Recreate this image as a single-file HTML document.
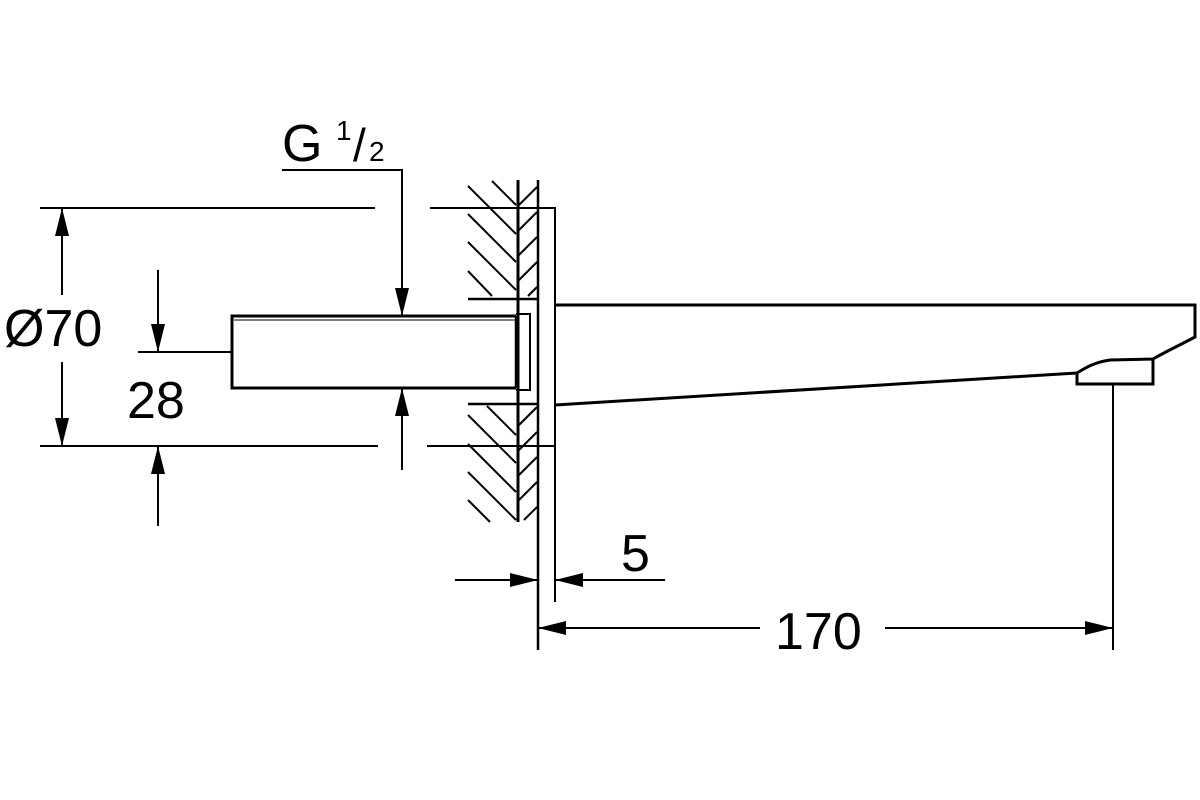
<!DOCTYPE html>
<html><head><meta charset="utf-8"><style>html,body{margin:0;padding:0;background:#fff}svg{display:block}</style></head>
<body>
<svg width="1200" height="800" viewBox="0 0 1200 800" xmlns="http://www.w3.org/2000/svg">
<defs>
<marker id="a" markerWidth="30" markerHeight="16" refX="28" refY="7" orient="auto" markerUnits="userSpaceOnUse">
<path d="M0,0 L28,7 L0,14 Z" fill="#000"/></marker>
</defs>
<g stroke="#000" fill="none" stroke-width="2">
<line x1="40" y1="208" x2="375" y2="208"/>
<line x1="430" y1="208" x2="538" y2="208"/>
<line x1="40" y1="446" x2="378" y2="446"/>
<line x1="427" y1="446" x2="538" y2="446"/>
<line x1="138" y1="352" x2="232" y2="352"/>
<line x1="62" y1="295" x2="62" y2="208" marker-end="url(#a)"/>
<line x1="62" y1="362" x2="62" y2="446" marker-end="url(#a)"/>
<line x1="158" y1="270" x2="158" y2="352" marker-end="url(#a)"/>
<line x1="158" y1="526" x2="158" y2="446" marker-end="url(#a)"/>
<polyline points="282,170 402,170 402,316"/>
<line x1="402" y1="280" x2="402" y2="316" marker-end="url(#a)"/>
<line x1="402" y1="470" x2="402" y2="388" marker-end="url(#a)"/>
<line x1="518" y1="180" x2="518" y2="522" stroke-width="3"/>
<line x1="538" y1="180" x2="538" y2="650" stroke-width="2.5"/>
<line x1="555" y1="446" x2="555" y2="602"/>
<line x1="468" y1="299" x2="538" y2="299" stroke-width="2.5"/>
<line x1="468" y1="404" x2="538" y2="404" stroke-width="2.5"/>
<line x1="468" y1="186" x2="516" y2="234"/>
<line x1="492" y1="181" x2="516" y2="205"/>
<line x1="468" y1="214" x2="516" y2="262"/>
<line x1="468" y1="242" x2="516" y2="290"/>
<line x1="468" y1="271" x2="492" y2="296"/>
<line x1="487" y1="406" x2="516" y2="435"/>
<line x1="468" y1="415" x2="516" y2="463"/>
<line x1="468" y1="444" x2="516" y2="492"/>
<line x1="468" y1="472" x2="516" y2="520"/>
<line x1="468" y1="500" x2="490" y2="522"/>
<line x1="519" y1="205" x2="537" y2="187"/>
<line x1="519" y1="230" x2="537" y2="212"/>
<line x1="519" y1="255" x2="537" y2="237"/>
<line x1="519" y1="280" x2="537" y2="262"/>
<line x1="528" y1="296" x2="537" y2="287"/>
<line x1="519" y1="425" x2="537" y2="407"/>
<line x1="519" y1="450" x2="537" y2="432"/>
<line x1="519" y1="475" x2="537" y2="457"/>
<line x1="519" y1="500" x2="537" y2="482"/>
<line x1="524" y1="520" x2="537" y2="507"/>
<polyline points="538,208 555,208 555,446 538,446"/>
<path d="M516,316 L232,316 L232,388 L516,388" stroke-width="3"/>
<line x1="234" y1="320" x2="516" y2="320" stroke-width="1"/>
<line x1="516" y1="316" x2="516" y2="388" stroke-width="2.5"/>
<polyline points="516,314 530,314 530,390 516,390" stroke-width="2"/>
<path d="M555,305 L1195,305 L1195,337 C1180,345 1165,352 1153,359 L1110,360 C1095,362 1085,368 1077,373 L1077,384 L1153,384 L1153,359 M1077,373 L555,405" stroke-width="3"/>
<line x1="1113" y1="384" x2="1113" y2="650"/>
<line x1="455" y1="580" x2="538" y2="580" marker-end="url(#a)"/>
<line x1="665" y1="580" x2="555" y2="580" marker-end="url(#a)"/>
<line x1="760" y1="628" x2="538" y2="628" marker-end="url(#a)"/>
<line x1="885" y1="628" x2="1113" y2="628" marker-end="url(#a)"/>
</g>
<g font-family="Liberation Sans, sans-serif" fill="#000">
<text x="4" y="346" font-size="52">Ø70</text>
<text x="127" y="418" font-size="52">28</text>
<text x="282" y="161" font-size="52">G</text>
<text x="336" y="140" font-size="28">1</text>
<text x="353" y="161" font-size="46">/</text>
<text x="369" y="161" font-size="28">2</text>
<text x="621" y="571" font-size="52">5</text>
<text x="775" y="649" font-size="52">170</text>
</g>
</svg>
</body></html>
